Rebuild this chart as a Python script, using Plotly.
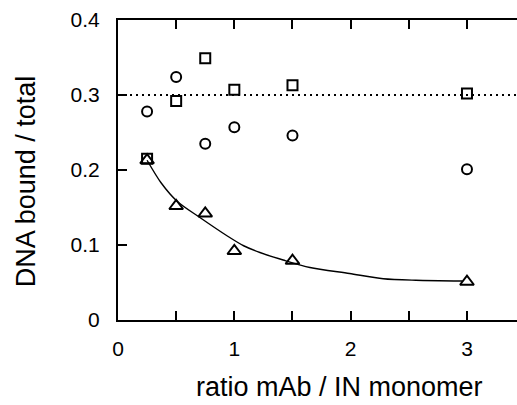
import plotly.graph_objects as go

ratio = [0.25, 0.5, 0.75, 1.0, 1.5, 3.0]
circles = [0.278, 0.324, 0.235, 0.257, 0.246, 0.201]
squares = [0.215, 0.292, 0.349, 0.307, 0.313, 0.302]
triangles = [0.213, 0.152, 0.142, 0.092, 0.079, 0.051]

curve_x = [0.25, 0.37, 0.51, 0.71, 0.94, 1.08, 1.22, 1.42, 1.65, 1.99, 2.28, 2.56, 2.96]
curve_y = [0.213, 0.183, 0.158, 0.136, 0.112, 0.099, 0.090, 0.080, 0.070, 0.062, 0.055, 0.053, 0.052]

ref_x = [0.0, 3.45]
ref_y = [0.3, 0.3]

x_ticks = [0, 0.5, 1, 1.5, 2, 2.5, 3]
x_labels = ["0", "", "1", "", "2", "", "3"]
y_ticks = [0, 0.1, 0.2, 0.3, 0.4]
y_labels = ["0", "0.1", "0.2", "0.3", "0.4"]

FONT = "Liberation Sans, Arial, sans-serif"

fig = go.Figure()
fig.add_trace(go.Scatter(x=ref_x, y=ref_y, mode="lines",
                         line=dict(color="black", width=2, dash="2px,4px"),
                         hoverinfo="skip", showlegend=False))
fig.add_trace(go.Scatter(x=curve_x, y=curve_y, mode="lines",
                         line=dict(color="black", width=1.4, shape="spline", smoothing=0.8),
                         showlegend=False))
fig.add_trace(go.Scatter(x=ratio, y=circles, mode="markers",
                         marker=dict(symbol="circle-open", size=10, color="black",
                                     line=dict(width=2, color="black")),
                         showlegend=False))
fig.add_trace(go.Scatter(x=ratio, y=squares, mode="markers",
                         marker=dict(symbol="square-open", size=10, color="black",
                                     line=dict(width=2, color="black")),
                         showlegend=False))
fig.add_trace(go.Scatter(x=ratio, y=triangles, mode="markers",
                         marker=dict(symbol="triangle-up-open", size=12, color="black",
                                     line=dict(width=2, color="black")),
                         showlegend=False))

fig.update_layout(
    width=517, height=405,
    margin=dict(l=118, r=0, t=20, b=85),
    paper_bgcolor="white", plot_bgcolor="white",
    font=dict(family=FONT, color="black", size=21),
    xaxis=dict(range=[0, 3.43], tickvals=x_ticks, ticktext=x_labels,
               ticks="inside", ticklen=9, tickwidth=1.5, tickcolor="black",
               showline=True, linecolor="black", linewidth=2, mirror="ticks",
               showgrid=False, zeroline=False, ticklabelstandoff=9,
               tickfont=dict(size=21, family=FONT, color="black")),
    yaxis=dict(range=[0, 0.4], tickvals=y_ticks, ticktext=y_labels,
               ticks="inside", ticklen=9, tickwidth=1.5, tickcolor="black",
               showline=True, linecolor="black", linewidth=2, mirror=False,
               showgrid=False, zeroline=False, ticklabelstandoff=12,
               tickfont=dict(size=21, family=FONT, color="black")),
    annotations=[
        dict(text="ratio mAb / IN monomer", xref="paper", yref="paper",
             x=0.554, y=-0.223, xanchor="center", yanchor="middle",
             showarrow=False, font=dict(size=27, family=FONT, color="black")),
        dict(text="DNA bound / total", xref="paper", yref="paper",
             x=-0.23, y=0.463, xanchor="center", yanchor="middle", textangle=-90,
             showarrow=False, font=dict(size=27, family=FONT, color="black")),
    ],
)

fig.write_html("out.html", config={"displayModeBar": False},
               post_script="document.body.style.margin='0';")
